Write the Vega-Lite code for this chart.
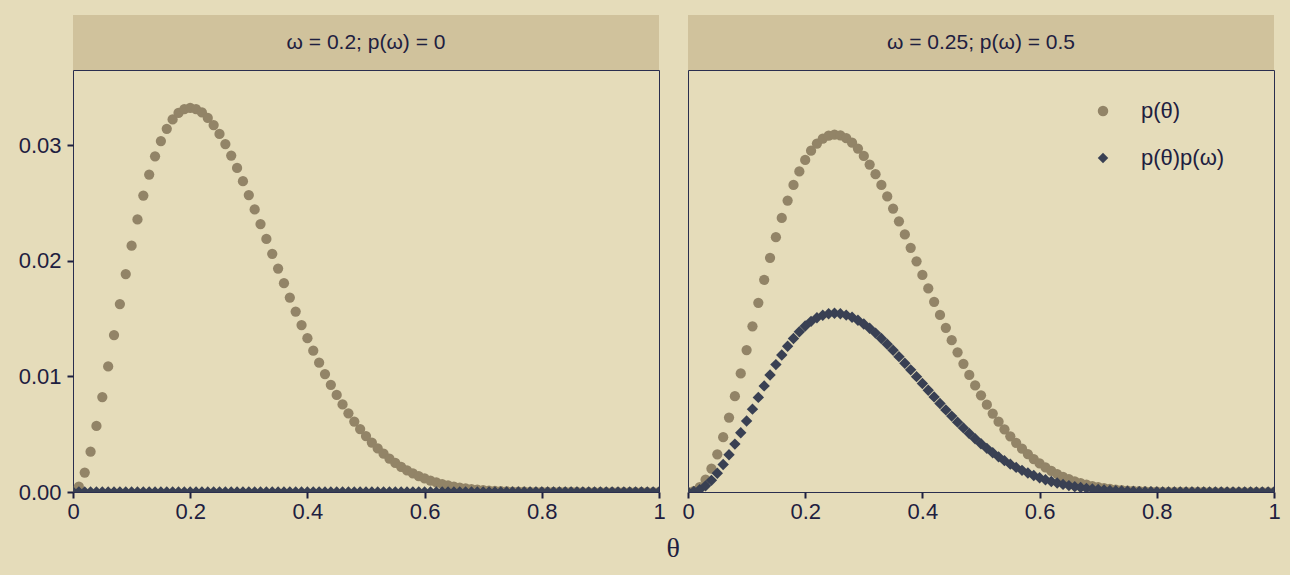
{
  "$schema": "https://vega.github.io/schema/vega-lite/v6.json",
  "background": "#E5DCBA",
  "padding": {"left": 17, "top": 15, "right": 9, "bottom": 12},
  "spacing": 15,
  "title": {"text": "θ", "orient": "bottom", "anchor": "middle", "frame": "bounds", "dx": 24, "font": "Liberation Serif", "fontSize": 28, "fontWeight": "normal", "color": "#1E2040", "offset": 12},
  "resolve": {"scale": {"color": "independent", "shape": "independent", "x": "independent", "y": "independent"}},
  "datasets": {
    "leftTheta": [
      {"theta":0,"p":0},{"theta":0.01,"p":0.000457},{"theta":0.02,"p":0.001684},{"theta":0.03,"p":0.003492},{"theta":0.04,"p":0.005713},{"theta":0.05,"p":0.00821},{"theta":0.06,"p":0.010863},{"theta":0.07,"p":0.013573},{"theta":0.08,"p":0.016259},{"theta":0.09,"p":0.018855},
      {"theta":0.1,"p":0.021308},{"theta":0.11,"p":0.023578},{"theta":0.12,"p":0.025635},{"theta":0.13,"p":0.027457},{"theta":0.14,"p":0.02903},{"theta":0.15,"p":0.030349},{"theta":0.16,"p":0.03141},{"theta":0.17,"p":0.03222},{"theta":0.18,"p":0.032783},{"theta":0.19,"p":0.033112},
      {"theta":0.2,"p":0.033219},{"theta":0.21,"p":0.033118},{"theta":0.22,"p":0.032825},{"theta":0.23,"p":0.032357},{"theta":0.24,"p":0.031734},{"theta":0.25,"p":0.030972},{"theta":0.26,"p":0.030089},{"theta":0.27,"p":0.029102},{"theta":0.28,"p":0.028027},{"theta":0.29,"p":0.026883},
      {"theta":0.3,"p":0.025682},{"theta":0.31,"p":0.024441},{"theta":0.32,"p":0.023173},{"theta":0.33,"p":0.021889},{"theta":0.34,"p":0.020602},{"theta":0.35,"p":0.019322},{"theta":0.36,"p":0.018057},{"theta":0.37,"p":0.016817},{"theta":0.38,"p":0.015607},{"theta":0.39,"p":0.014434},
      {"theta":0.4,"p":0.013303},{"theta":0.41,"p":0.012218},{"theta":0.42,"p":0.011182},{"theta":0.43,"p":0.010199},{"theta":0.44,"p":0.009269},{"theta":0.45,"p":0.008393},{"theta":0.46,"p":0.007573},{"theta":0.47,"p":0.006808},{"theta":0.48,"p":0.006097},{"theta":0.49,"p":0.00544},
      {"theta":0.5,"p":0.004834},{"theta":0.51,"p":0.004279},{"theta":0.52,"p":0.003772},{"theta":0.53,"p":0.003311},{"theta":0.54,"p":0.002894},{"theta":0.55,"p":0.002518},{"theta":0.56,"p":0.002181},{"theta":0.57,"p":0.00188},{"theta":0.58,"p":0.001612},{"theta":0.59,"p":0.001376},
      {"theta":0.6,"p":0.001168},{"theta":0.61,"p":0.000986},{"theta":0.62,"p":0.000827},{"theta":0.63,"p":0.00069},{"theta":0.64,"p":0.000572},{"theta":0.65,"p":0.000471},{"theta":0.66,"p":0.000385},{"theta":0.67,"p":0.000313},{"theta":0.68,"p":0.000252},{"theta":0.69,"p":0.000201},
      {"theta":0.7,"p":0.000159},{"theta":0.71,"p":0.000125},{"theta":0.72,"p":0.000097},{"theta":0.73,"p":0.000075},{"theta":0.74,"p":0.000057},{"theta":0.75,"p":0.000042},{"theta":0.76,"p":0.000031},{"theta":0.77,"p":0.000023},{"theta":0.78,"p":0.000017},{"theta":0.79,"p":0.000012},
      {"theta":0.8,"p":0.000008},{"theta":0.81,"p":0.000006},{"theta":0.82,"p":0.000004},{"theta":0.83,"p":0.000002},{"theta":0.84,"p":0.000002},{"theta":0.85,"p":0.000001},{"theta":0.86,"p":0.000001},{"theta":0.87,"p":0},{"theta":0.88,"p":0},{"theta":0.89,"p":0},
      {"theta":0.9,"p":0},{"theta":0.91,"p":0},{"theta":0.92,"p":0},{"theta":0.93,"p":0},{"theta":0.94,"p":0},{"theta":0.95,"p":0},{"theta":0.96,"p":0},{"theta":0.97,"p":0},{"theta":0.98,"p":0},{"theta":0.99,"p":0},{"theta":1,"p":0}
    ],
    "leftJoint": [
      {"theta":0,"p":0},{"theta":0.01,"p":0},{"theta":0.02,"p":0},{"theta":0.03,"p":0},{"theta":0.04,"p":0},{"theta":0.05,"p":0},{"theta":0.06,"p":0},{"theta":0.07,"p":0},{"theta":0.08,"p":0},{"theta":0.09,"p":0},
      {"theta":0.1,"p":0},{"theta":0.11,"p":0},{"theta":0.12,"p":0},{"theta":0.13,"p":0},{"theta":0.14,"p":0},{"theta":0.15,"p":0},{"theta":0.16,"p":0},{"theta":0.17,"p":0},{"theta":0.18,"p":0},{"theta":0.19,"p":0},
      {"theta":0.2,"p":0},{"theta":0.21,"p":0},{"theta":0.22,"p":0},{"theta":0.23,"p":0},{"theta":0.24,"p":0},{"theta":0.25,"p":0},{"theta":0.26,"p":0},{"theta":0.27,"p":0},{"theta":0.28,"p":0},{"theta":0.29,"p":0},
      {"theta":0.3,"p":0},{"theta":0.31,"p":0},{"theta":0.32,"p":0},{"theta":0.33,"p":0},{"theta":0.34,"p":0},{"theta":0.35,"p":0},{"theta":0.36,"p":0},{"theta":0.37,"p":0},{"theta":0.38,"p":0},{"theta":0.39,"p":0},
      {"theta":0.4,"p":0},{"theta":0.41,"p":0},{"theta":0.42,"p":0},{"theta":0.43,"p":0},{"theta":0.44,"p":0},{"theta":0.45,"p":0},{"theta":0.46,"p":0},{"theta":0.47,"p":0},{"theta":0.48,"p":0},{"theta":0.49,"p":0},
      {"theta":0.5,"p":0},{"theta":0.51,"p":0},{"theta":0.52,"p":0},{"theta":0.53,"p":0},{"theta":0.54,"p":0},{"theta":0.55,"p":0},{"theta":0.56,"p":0},{"theta":0.57,"p":0},{"theta":0.58,"p":0},{"theta":0.59,"p":0},
      {"theta":0.6,"p":0},{"theta":0.61,"p":0},{"theta":0.62,"p":0},{"theta":0.63,"p":0},{"theta":0.64,"p":0},{"theta":0.65,"p":0},{"theta":0.66,"p":0},{"theta":0.67,"p":0},{"theta":0.68,"p":0},{"theta":0.69,"p":0},
      {"theta":0.7,"p":0},{"theta":0.71,"p":0},{"theta":0.72,"p":0},{"theta":0.73,"p":0},{"theta":0.74,"p":0},{"theta":0.75,"p":0},{"theta":0.76,"p":0},{"theta":0.77,"p":0},{"theta":0.78,"p":0},{"theta":0.79,"p":0},
      {"theta":0.8,"p":0},{"theta":0.81,"p":0},{"theta":0.82,"p":0},{"theta":0.83,"p":0},{"theta":0.84,"p":0},{"theta":0.85,"p":0},{"theta":0.86,"p":0},{"theta":0.87,"p":0},{"theta":0.88,"p":0},{"theta":0.89,"p":0},
      {"theta":0.9,"p":0},{"theta":0.91,"p":0},{"theta":0.92,"p":0},{"theta":0.93,"p":0},{"theta":0.94,"p":0},{"theta":0.95,"p":0},{"theta":0.96,"p":0},{"theta":0.97,"p":0},{"theta":0.98,"p":0},{"theta":0.99,"p":0},{"theta":1,"p":0}
    ],
    "rightTheta": [
      {"theta":0,"p":0},{"theta":0.01,"p":0.000079},{"theta":0.02,"p":0.000416},{"theta":0.03,"p":0.001062},{"theta":0.04,"p":0.002016},{"theta":0.05,"p":0.003256},{"theta":0.06,"p":0.004745},{"theta":0.07,"p":0.006438},{"theta":0.08,"p":0.00829},{"theta":0.09,"p":0.010252},
      {"theta":0.1,"p":0.01228},{"theta":0.11,"p":0.014331},{"theta":0.12,"p":0.016367},{"theta":0.13,"p":0.01835},{"theta":0.14,"p":0.020251},{"theta":0.15,"p":0.022042},{"theta":0.16,"p":0.023701},{"theta":0.17,"p":0.025211},{"theta":0.18,"p":0.026555},{"theta":0.19,"p":0.027727},
      {"theta":0.2,"p":0.028717},{"theta":0.21,"p":0.029522},{"theta":0.22,"p":0.03014},{"theta":0.23,"p":0.030575},{"theta":0.24,"p":0.030832},{"theta":0.25,"p":0.030916},{"theta":0.26,"p":0.030836},{"theta":0.27,"p":0.0306},{"theta":0.28,"p":0.030218},{"theta":0.29,"p":0.029705},
      {"theta":0.3,"p":0.029068},{"theta":0.31,"p":0.028324},{"theta":0.32,"p":0.027484},{"theta":0.33,"p":0.02656},{"theta":0.34,"p":0.025565},{"theta":0.35,"p":0.024513},{"theta":0.36,"p":0.023414},{"theta":0.37,"p":0.022282},{"theta":0.38,"p":0.021125},{"theta":0.39,"p":0.019954},
      {"theta":0.4,"p":0.018779},{"theta":0.41,"p":0.017609},{"theta":0.42,"p":0.016452},{"theta":0.43,"p":0.015315},{"theta":0.44,"p":0.014205},{"theta":0.45,"p":0.013126},{"theta":0.46,"p":0.012084},{"theta":0.47,"p":0.011085},{"theta":0.48,"p":0.010128},{"theta":0.49,"p":0.009219},
      {"theta":0.5,"p":0.008358},{"theta":0.51,"p":0.007547},{"theta":0.52,"p":0.006787},{"theta":0.53,"p":0.006079},{"theta":0.54,"p":0.005421},{"theta":0.55,"p":0.004813},{"theta":0.56,"p":0.004254},{"theta":0.57,"p":0.003742},{"theta":0.58,"p":0.003276},{"theta":0.59,"p":0.002854},
      {"theta":0.6,"p":0.002473},{"theta":0.61,"p":0.002132},{"theta":0.62,"p":0.001827},{"theta":0.63,"p":0.001557},{"theta":0.64,"p":0.001319},{"theta":0.65,"p":0.00111},{"theta":0.66,"p":0.000928},{"theta":0.67,"p":0.00077},{"theta":0.68,"p":0.000634},{"theta":0.69,"p":0.000518},
      {"theta":0.7,"p":0.00042},{"theta":0.71,"p":0.000338},{"theta":0.72,"p":0.000269},{"theta":0.73,"p":0.000212},{"theta":0.74,"p":0.000165},{"theta":0.75,"p":0.000127},{"theta":0.76,"p":0.000097},{"theta":0.77,"p":0.000073},{"theta":0.78,"p":0.000054},{"theta":0.79,"p":0.000039},
      {"theta":0.8,"p":0.000028},{"theta":0.81,"p":0.00002},{"theta":0.82,"p":0.000014},{"theta":0.83,"p":0.000009},{"theta":0.84,"p":0.000006},{"theta":0.85,"p":0.000004},{"theta":0.86,"p":0.000002},{"theta":0.87,"p":0.000001},{"theta":0.88,"p":0.000001},{"theta":0.89,"p":0},
      {"theta":0.9,"p":0},{"theta":0.91,"p":0},{"theta":0.92,"p":0},{"theta":0.93,"p":0},{"theta":0.94,"p":0},{"theta":0.95,"p":0},{"theta":0.96,"p":0},{"theta":0.97,"p":0},{"theta":0.98,"p":0},{"theta":0.99,"p":0},{"theta":1,"p":0}
    ],
    "rightJoint": [
      {"theta":0,"p":0},{"theta":0.01,"p":0.00004},{"theta":0.02,"p":0.000208},{"theta":0.03,"p":0.000531},{"theta":0.04,"p":0.001008},{"theta":0.05,"p":0.001628},{"theta":0.06,"p":0.002373},{"theta":0.07,"p":0.003219},{"theta":0.08,"p":0.004145},{"theta":0.09,"p":0.005126},
      {"theta":0.1,"p":0.00614},{"theta":0.11,"p":0.007166},{"theta":0.12,"p":0.008184},{"theta":0.13,"p":0.009175},{"theta":0.14,"p":0.010126},{"theta":0.15,"p":0.011021},{"theta":0.16,"p":0.011851},{"theta":0.17,"p":0.012606},{"theta":0.18,"p":0.013278},{"theta":0.19,"p":0.013864},
      {"theta":0.2,"p":0.014359},{"theta":0.21,"p":0.014761},{"theta":0.22,"p":0.01507},{"theta":0.23,"p":0.015288},{"theta":0.24,"p":0.015416},{"theta":0.25,"p":0.015458},{"theta":0.26,"p":0.015418},{"theta":0.27,"p":0.0153},{"theta":0.28,"p":0.015109},{"theta":0.29,"p":0.014853},
      {"theta":0.3,"p":0.014534},{"theta":0.31,"p":0.014162},{"theta":0.32,"p":0.013742},{"theta":0.33,"p":0.01328},{"theta":0.34,"p":0.012783},{"theta":0.35,"p":0.012257},{"theta":0.36,"p":0.011707},{"theta":0.37,"p":0.011141},{"theta":0.38,"p":0.010563},{"theta":0.39,"p":0.009977},
      {"theta":0.4,"p":0.00939},{"theta":0.41,"p":0.008805},{"theta":0.42,"p":0.008226},{"theta":0.43,"p":0.007658},{"theta":0.44,"p":0.007103},{"theta":0.45,"p":0.006563},{"theta":0.46,"p":0.006042},{"theta":0.47,"p":0.005543},{"theta":0.48,"p":0.005064},{"theta":0.49,"p":0.00461},
      {"theta":0.5,"p":0.004179},{"theta":0.51,"p":0.003774},{"theta":0.52,"p":0.003394},{"theta":0.53,"p":0.00304},{"theta":0.54,"p":0.002711},{"theta":0.55,"p":0.002407},{"theta":0.56,"p":0.002127},{"theta":0.57,"p":0.001871},{"theta":0.58,"p":0.001638},{"theta":0.59,"p":0.001427},
      {"theta":0.6,"p":0.001237},{"theta":0.61,"p":0.001066},{"theta":0.62,"p":0.000914},{"theta":0.63,"p":0.000778},{"theta":0.64,"p":0.000659},{"theta":0.65,"p":0.000555},{"theta":0.66,"p":0.000464},{"theta":0.67,"p":0.000385},{"theta":0.68,"p":0.000317},{"theta":0.69,"p":0.000259},
      {"theta":0.7,"p":0.00021},{"theta":0.71,"p":0.000169},{"theta":0.72,"p":0.000134},{"theta":0.73,"p":0.000106},{"theta":0.74,"p":0.000083},{"theta":0.75,"p":0.000064},{"theta":0.76,"p":0.000048},{"theta":0.77,"p":0.000036},{"theta":0.78,"p":0.000027},{"theta":0.79,"p":0.00002},
      {"theta":0.8,"p":0.000014},{"theta":0.81,"p":0.00001},{"theta":0.82,"p":0.000007},{"theta":0.83,"p":0.000005},{"theta":0.84,"p":0.000003},{"theta":0.85,"p":0.000002},{"theta":0.86,"p":0.000001},{"theta":0.87,"p":0.000001},{"theta":0.88,"p":0},{"theta":0.89,"p":0},
      {"theta":0.9,"p":0},{"theta":0.91,"p":0},{"theta":0.92,"p":0},{"theta":0.93,"p":0},{"theta":0.94,"p":0},{"theta":0.95,"p":0},{"theta":0.96,"p":0},{"theta":0.97,"p":0},{"theta":0.98,"p":0},{"theta":0.99,"p":0},{"theta":1,"p":0}
    ]
  },
  "hconcat": [
    {
      "bounds": "flush",
      "spacing": 0,
      "vconcat": [
        {
          "data": {"values": [{"label": "ω = 0.2; p(ω) = 0"}]},
          "width": 586, "height": 55,
          "view": {"fill": "#D0C29C", "stroke": null},
          "mark": {"type": "text", "fontSize": 21, "color": "#1E2040", "baseline": "middle", "align": "center"},
          "encoding": {"text": {"field": "label"}}
        },
        {
          "width": 586, "height": 422,
          "layer": [
            {
              "data": {"name": "leftTheta"},
              "mark": {"type": "point", "shape": "circle", "filled": true, "size": 105, "opacity": 1, "strokeWidth": 0, "color": "#928467", "clip": true},
              "encoding": {
                "x": {"field": "theta", "type": "quantitative", "scale": {"domain": [0, 1], "nice": false}, "axis": {"values": [0, 0.2, 0.4, 0.6, 0.8, 1], "format": "~g", "title": null, "labelFlush": false}},
                "y": {"field": "p", "type": "quantitative", "scale": {"domain": [0, 0.0365], "nice": false, "zero": true}, "axis": {"values": [0, 0.01, 0.02, 0.03], "format": ".2f", "title": null, "labelFlush": false, "labelPadding": 6}}
              }
            },
            {
              "data": {"name": "leftJoint"},
              "mark": {"type": "point", "shape": "diamond", "filled": true, "size": 130, "opacity": 1, "strokeWidth": 0, "color": "#394053", "clip": true},
              "encoding": {
                "x": {"field": "theta", "type": "quantitative"},
                "y": {"field": "p", "type": "quantitative"}
              }
            }
          ]
        }
      ]
    },
    {
      "bounds": "flush",
      "spacing": 0,
      "resolve": {"scale": {"color": "independent", "shape": "independent"}},
      "vconcat": [
        {
          "data": {"values": [{"label": "ω = 0.25; p(ω) = 0.5"}]},
          "width": 586, "height": 55,
          "view": {"fill": "#D0C29C", "stroke": null},
          "mark": {"type": "text", "fontSize": 21, "color": "#1E2040", "baseline": "middle", "align": "center"},
          "encoding": {"text": {"field": "label"}}
        },
        {
          "width": 586, "height": 422,
          "layer": [
            {
              "data": {"name": "rightTheta"},
              "mark": {"type": "point", "filled": true, "size": 105, "opacity": 1, "strokeWidth": 0, "clip": true},
              "encoding": {
                "x": {"field": "theta", "type": "quantitative", "scale": {"domain": [0, 1], "nice": false}, "axis": {"values": [0, 0.2, 0.4, 0.6, 0.8, 1], "format": "~g", "title": null, "labelFlush": false}},
                "y": {"field": "p", "type": "quantitative", "scale": {"domain": [0, 0.0365], "nice": false, "zero": true}, "axis": null},
                "color": {"datum": "p(θ)", "type": "nominal", "scale": {"domain": ["p(θ)", "p(θ)p(ω)"], "range": ["#928467", "#394053"]},
                  "legend": {"title": null, "orient": "none", "legendX": 404, "legendY": 30, "labelFontSize": 22, "labelColor": "#1E2040", "symbolSize": 110, "rowPadding": 25, "labelOffset": 27, "symbolStrokeWidth": 0, "padding": 0, "symbolOpacity": 1}},
                "shape": {"datum": "p(θ)", "type": "nominal", "scale": {"domain": ["p(θ)", "p(θ)p(ω)"], "range": ["circle", "diamond"]}}
              }
            },
            {
              "data": {"name": "rightJoint"},
              "mark": {"type": "point", "filled": true, "size": 130, "opacity": 1, "strokeWidth": 0, "clip": true},
              "encoding": {
                "x": {"field": "theta", "type": "quantitative"},
                "y": {"field": "p", "type": "quantitative"},
                "color": {"datum": "p(θ)p(ω)", "type": "nominal"},
                "shape": {"datum": "p(θ)p(ω)", "type": "nominal"}
              }
            }
          ]
        }
      ]
    }
  ],
  "config": {
    "font": "Liberation Sans",
    "view": {"stroke": "#2A2E4E", "strokeWidth": 1},
    "axis": {"labelColor": "#1E2040", "tickColor": "#1E2040", "labelFontSize": 22, "tickSize": 6, "tickWidth": 2, "domain": false, "grid": false, "labelPadding": 3},
    "legend": {"labelFont": "Liberation Sans"}
  }
}
